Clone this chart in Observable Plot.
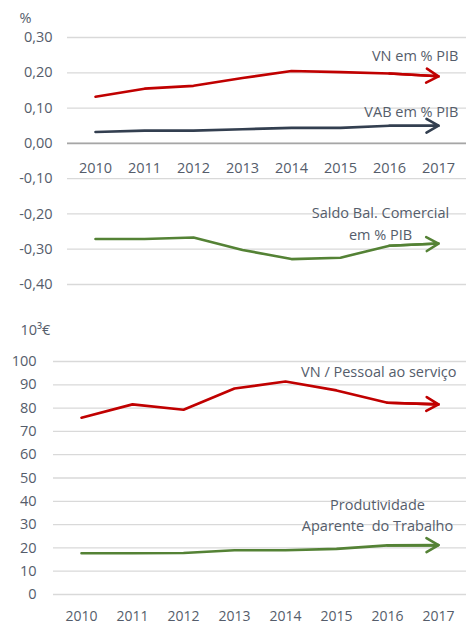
<!DOCTYPE html>
<html>
<head>
<meta charset="utf-8">
<script src="https://cdn.jsdelivr.net/npm/d3@7"></script>
<script src="https://cdn.jsdelivr.net/npm/@observablehq/plot@0.6"></script>
<style>
  html, body { margin: 0; padding: 0; background: #fff; }
  #chart { position: relative; width: 466px; height: 625px; overflow: hidden; }
  #top, #bottom { position: absolute; left: 0; }
  #top { top: 0; }
  #bottom { top: 300px; }
</style>
</head>
<body>
<div id="chart"><div id="top"></div><div id="bottom"></div></div>
<script>
const years = ["2010", "2011", "2012", "2013", "2014", "2015", "2016", "2017"];
const vnPib = [0.132, 0.155, 0.163, 0.185, 0.205, 0.202, 0.198, 0.190];
const vabPib = [0.032, 0.036, 0.036, 0.040, 0.044, 0.044, 0.050, 0.050];
const saldoPib = [-0.271, -0.271, -0.267, -0.302, -0.328, -0.324, -0.290, -0.284];
const vnPessoal = [75.9, 81.6, 79.3, 88.4, 91.4, 87.6, 82.3, 81.6];
const produtividade = [17.7, 17.7, 17.8, 19.0, 19.0, 19.6, 21.1, 21.2];
const topTicks = [-0.4, -0.3, -0.2, -0.1, 0, 0.1, 0.2, 0.3];
const bottomTicks = [0, 10, 20, 30, 40, 50, 60, 70, 80, 90, 100];
const topUnit = "%";
const bottomUnit = "10³€";

const RED = "#c00000", DARK = "#333f50", GREEN = "#548235";
const TEXT = "#555d6b", GRID = "#d9d9d9";
const font = { fontFamily: "'Open Sans', sans-serif", fontSize: "14.5px", color: TEXT, overflow: "visible" };

const rows = (vals) => years.map((y, i) => ({ year: y, value: vals[i] }));
const lastSeg = (vals) => [{ x1: years[6], y1: vals[6], x2: years[7], y2: vals[7] }];
const last = (vals) => [{ year: years[7], value: vals[7] }];
const fmtPct = (d) => d.toFixed(2).replace(".", ",");

function series(vals, color) {
  return [
    Plot.line(rows(vals), { x: "year", y: "value", stroke: color, strokeWidth: 2.6, strokeLinejoin: "round", strokeLinecap: "round" }),
    Plot.arrow(lastSeg(vals), { x1: "x1", y1: "y1", x2: "x2", y2: "y2", stroke: color, strokeWidth: 2.6, headAngle: 60, headLength: 8 })
  ];
}

const topPlot = Plot.plot({
  width: 466, height: 300,
  marginLeft: 67, marginRight: 0, marginTop: 37, marginBottom: 16,
  style: font,
  x: { type: "point", domain: years, padding: 0.5, axis: null },
  y: { domain: [-0.4, 0.3], axis: null },
  marks: [
    Plot.gridY(topTicks, { stroke: GRID, strokeOpacity: 1, strokeWidth: 1.3 }),
    Plot.ruleY([0], { stroke: "#a6a6a6", strokeWidth: 1.8 }),
    Plot.axisY(topTicks, { tickSize: 0, tickPadding: 15, tickFormat: fmtPct, fill: TEXT }),
    Plot.text(years, { x: (d) => d, y: () => 0, dy: 25, fill: TEXT, lineAnchor: "middle" }),
    Plot.text([topUnit], { frameAnchor: "top-left", dx: -48, dy: -19, textAnchor: "start", lineAnchor: "middle", fill: TEXT }),
    ...series(vnPib, RED),
    ...series(vabPib, DARK),
    ...series(saldoPib, GREEN),
    Plot.text(last(vnPib), { x: "year", y: "value", text: () => "VN em % PIB", textAnchor: "end", dx: 20, dy: -20, fill: TEXT, lineAnchor: "middle" }),
    Plot.text(last(vabPib), { x: "year", y: "value", text: () => "VAB em % PIB", textAnchor: "end", dx: 20, dy: -13, fill: TEXT, lineAnchor: "middle" }),
    Plot.text(last(saldoPib), { x: "year", y: "value", text: () => "Saldo Bal. Comercial\nem % PIB", textAnchor: "middle", dx: -58, dy: -22, lineHeight: 1.52, fill: TEXT, lineAnchor: "middle" })
  ]
});
document.getElementById("top").appendChild(topPlot);

const bottomPlot = Plot.plot({
  width: 466, height: 325,
  marginLeft: 53, marginRight: 0, marginTop: 61, marginBottom: 31,
  style: font,
  x: { type: "point", domain: years, padding: 0.5, axis: null },
  y: { domain: [0, 100], axis: null },
  marks: [
    Plot.gridY(bottomTicks, { stroke: GRID, strokeOpacity: 1, strokeWidth: 1.3 }),
    Plot.axisY(bottomTicks, { tickSize: 0, tickPadding: 17, fill: TEXT }),
    Plot.axisX(years, { anchor: "bottom", tickSize: 0, tickPadding: 17, fill: TEXT, fontSize: 14 }),
    Plot.text([bottomUnit], { frameAnchor: "top-left", dx: -33, dy: -31, textAnchor: "start", lineAnchor: "middle", fill: TEXT }),
    ...series(vnPessoal, RED),
    ...series(produtividade, GREEN),
    Plot.text(last(vnPessoal), { x: "year", y: "value", text: () => "VN / Pessoal ao serviço", textAnchor: "end", dx: 18, dy: -32, fill: TEXT, lineAnchor: "middle" }),
    Plot.text(last(produtividade), { x: "year", y: "value", text: () => "Produtividade\nAparente  do Trabalho", textAnchor: "middle", dx: -61, dy: -31, lineHeight: 1.45, fill: TEXT, lineAnchor: "middle" })
  ]
});
document.getElementById("bottom").appendChild(bottomPlot);
</script>
</body>
</html>
